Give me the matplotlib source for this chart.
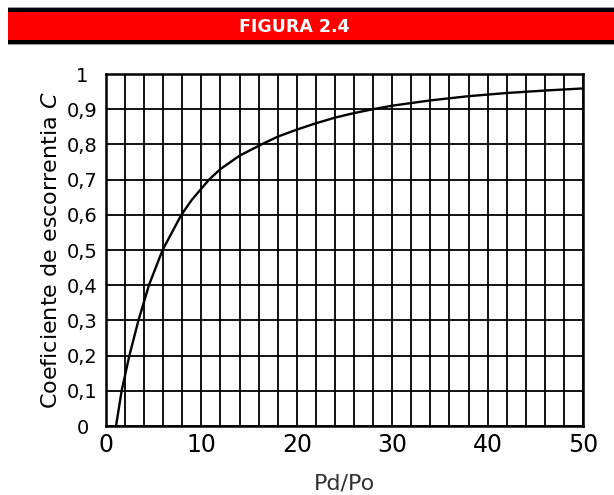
import matplotlib.pyplot as plt
from matplotlib.patches import Rectangle
import numpy as np

# curve: Pd/Po vs runoff coefficient C
pd_po = [1.05, 1.64, 2.45, 3.4, 4.5, 5.93, 7.9, 8.98, 10.8, 12, 14, 16.3, 18, 20,
         22, 24, 26, 28, 30, 34, 38, 42, 46, 50]
coef_c = [0.0, 0.1, 0.2, 0.3, 0.4, 0.5, 0.6, 0.642, 0.7, 0.73, 0.768, 0.8, 0.822, 0.842,
          0.860, 0.876, 0.889, 0.900, 0.910, 0.925, 0.937, 0.946, 0.953, 0.959]

x_ticks = [0, 10, 20, 30, 40, 50]
y_ticks = [0, 0.1, 0.2, 0.3, 0.4, 0.5, 0.6, 0.7, 0.8, 0.9, 1.0]
y_labels = ["0", "0,1", "0,2", "0,3", "0,4", "0,5", "0,6", "0,7", "0,8", "0,9", "1"]

fig = plt.figure(figsize=(6.14, 4.95), dpi=100)

# red title banner with black borders
def band(y0, y1, color):
    fig.patches.append(Rectangle((8/614, 1-y1/495), 1, (y1-y0)/495,
                                 transform=fig.transFigure, facecolor=color,
                                 edgecolor="none"))

band(7, 8, "#999999")
band(8, 12, "black")
band(12, 40, "#ff0000")
band(40, 44, "black")
band(44, 45, "#999999")
fig.text(294/614, 1-26.5/495, "FIGURA 2.4", color="white", fontsize=12.5,
         fontweight="bold", ha="center", va="center")

ax = fig.add_axes([106/614, 69/495, 477/614, 352/495])
ax.plot(pd_po, coef_c, color="black", lw=1.7)

ax.set_xlim(0, 50)
ax.set_ylim(0, 1)
ax.set_xticks(np.arange(0, 51, 2), minor=True)
ax.set_xticks(x_ticks)
ax.set_xticklabels([str(t) for t in x_ticks], fontsize=17)
ax.set_yticks(y_ticks)
ax.set_yticklabels(y_labels, fontsize=14, ha="center")
ax.tick_params(axis="both", which="both", length=0)
ax.tick_params(axis="y", pad=17)
ax.tick_params(axis="x", pad=5)
ax.grid(True, which="both", color="black", lw=1.3)
for s in ax.spines.values():
    s.set_linewidth(1.8)

ax.set_xlabel("Pd/Po", fontsize=16, color="#333333", labelpad=12)
ax.set_ylabel("Coeficiente de escorrentia $\\it{C}$", fontsize=16, labelpad=4)

fig.savefig("out.png", dpi=100)
